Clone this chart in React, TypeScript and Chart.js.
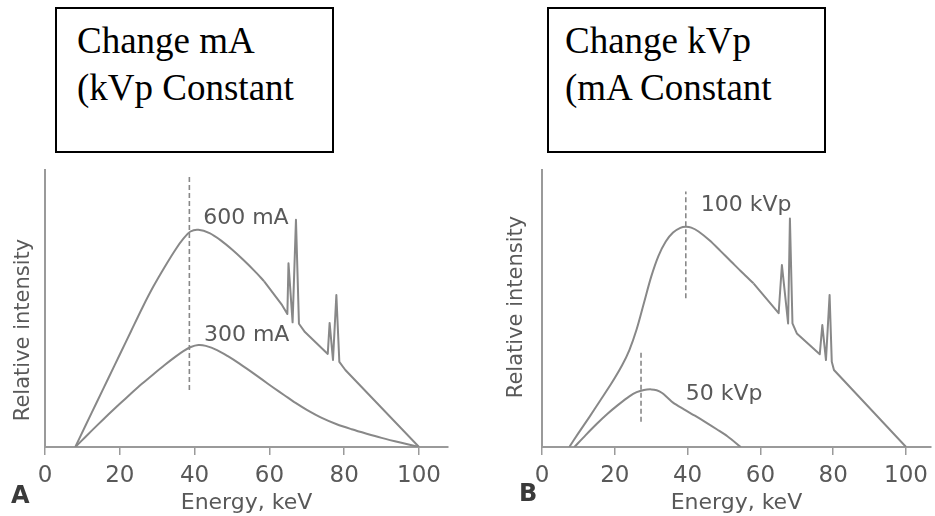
import React, { useEffect, useRef } from "react";
import { Chart, registerables } from "chart.js";

Chart.register(...registerables);

// ---------- data ----------
const xTickStep = 20;

// Panel A: change mA (kVp constant)
// 600 mA: smooth continuum part, then straight part with characteristic spikes
const a600SmoothX = [8.1, 11, 14, 17, 20, 23, 26, 29, 32, 35, 37, 38.9, 41, 44, 47, 50, 53, 56, 58.6];
const a600SmoothY = [0, 8.2, 16.6, 25.0, 33.4, 41.8, 50.2, 58.0, 65.0, 71.5, 75.2, 77.8, 78.4, 77.2, 74.6, 71.3, 67.6, 63.6, 59.8];
const a600LineX = [58.6, 63.4, 64.8, 65.1, 66.2, 67.1, 67.9, 69.5, 75.6, 76.1, 77.0, 77.9, 78.7, 80.3, 100];
const a600LineY = [59.8, 51.2, 48.0, 66.3, 45.0, 82.0, 44.5, 41.5, 33.6, 44.8, 31.4, 54.9, 30.7, 27.8, 0];
const a300X = [8.1, 11, 14, 17, 20, 23, 26, 29, 32, 35, 37, 39, 41, 43, 46, 49, 52, 55, 58, 61, 64, 67, 70, 74, 78, 82, 86, 90, 95, 100];
const a300Y = [0, 3.9, 7.9, 11.8, 15.6, 19.3, 22.9, 26.3, 29.6, 32.7, 34.6, 36.1, 36.8, 36.5, 35.0, 32.7, 30.1, 27.3, 24.4, 21.5, 18.7, 15.9, 13.4, 10.5, 8.2, 6.4, 4.8, 3.3, 1.6, 0];
const aPeakX = [38.6, 38.6];
const aPeakY = [20.6, 98.2];

// Panel B: change kVp (mA constant)
const b100SmoothX = [7.5, 10, 13, 16, 19, 22, 24, 26, 28, 30, 32, 34, 36, 38, 39.5, 41, 43, 46, 49, 52, 55, 58.1];
const b100SmoothY = [0, 5.0, 10.8, 16.8, 22.8, 29.5, 35.0, 42.5, 52.0, 61.5, 69.0, 74.2, 77.4, 79.1, 79.5, 79.2, 77.8, 74.6, 70.8, 66.9, 63.0, 59.1];
const b100LineX = [58.1, 65.0, 65.9, 67.6, 68.1, 68.8, 70.0, 76.3, 77.0, 78.0, 79.0, 79.6, 80.2, 100];
const b100LineY = [59.1, 48.3, 65.7, 44.6, 82.5, 44.6, 41.0, 33.5, 44.0, 31.4, 54.9, 30.8, 27.8, 0];
const b50X = [8.9, 12, 15, 18, 21, 24, 26, 28, 30, 31.5, 33, 34.5, 36, 39, 42, 45, 48, 51, 54.6];
const b50Y = [0, 4.3, 8.3, 12.0, 15.3, 18.3, 19.8, 20.6, 20.8, 20.5, 19.5, 17.8, 16.0, 13.6, 11.3, 8.9, 6.4, 3.8, 0];
const b100PeakX = [39.5, 39.5];
const b100PeakY = [53.7, 92.2];
const b50PeakX = [27.2, 27.2];
const b50PeakY = [9.1, 34.4];

const seriesLabelsA = [
  { text: "600 mA", x: 42.3, y: 82.7 },
  { text: "300 mA", x: 42.5, y: 40.4 },
];
const seriesLabelsB = [
  { text: "100 kVp", x: 43.6, y: 87.4 },
  { text: "50 kVp", x: 39.5, y: 19.1 },
];

// ---------- styles ----------
const TEXT = "#595959";
const LINE = "#888888";
const AXIS = "#9a9a9a";
const SANS = '"DejaVu Sans", "Liberation Sans", sans-serif';

type Series = { label: string; x: number[]; y: number[]; dashed?: boolean; tension?: number };
type PanelSpec = {
  series: Series[];
  labels: { text: string; x: number; y: number }[];
  xMax: number;
  yAxisWidth: number;
  padRight: number;
  yTitle: [number, number];
  letter: string;
  letterPos: [number, number];
};

const zip = (xs: number[], ys: number[]) => xs.map((x, i) => ({ x, y: ys[i] }));

const textPlugin = {
  id: "panelText",
  afterDraw(chart: any, _args: any, opts: any) {
    const ctx = chart.ctx as CanvasRenderingContext2D;
    const xs = chart.scales.x;
    const ys = chart.scales.y;
    ctx.save();
    ctx.fillStyle = TEXT;
    ctx.font = `22px ${SANS}`;
    ctx.textBaseline = "middle";
    ctx.textAlign = "left";
    for (const l of opts.labels) {
      ctx.fillText(l.text, xs.getPixelForValue(l.x), ys.getPixelForValue(l.y));
    }
    // panel letter
    ctx.fillStyle = "#3a3a3a";
    ctx.font = `bold 24px ${SANS}`;
    ctx.fillText(opts.letter, opts.letterPos[0], opts.letterPos[1]);
    // y axis title
    ctx.fillStyle = TEXT;
    ctx.font = `21px ${SANS}`;
    ctx.translate(opts.yTitle[0], opts.yTitle[1]);
    ctx.rotate(-Math.PI / 2);
    ctx.textAlign = "center";
    ctx.fillText("Relative intensity", 0, 0);
    ctx.restore();
  },
};

function Panel({ spec, left, width }: { spec: PanelSpec; left: number; width: number }) {
  const ref = useRef<HTMLCanvasElement | null>(null);
  useEffect(() => {
    if (!ref.current) return;
    const chart = new Chart(ref.current, {
      type: "line",
      data: {
        datasets: spec.series.map((s) => ({
          label: s.label,
          data: zip(s.x, s.y),
          borderColor: LINE,
          borderWidth: s.dashed ? 1.6 : 2,
          borderDash: s.dashed ? [5, 3] : [],
          pointRadius: 0,
          fill: false,
          tension: s.tension ?? 0,
          borderJoinStyle: "round",
        })),
      },
      options: {
        animation: false,
        responsive: false,
        layout: { padding: { top: 10, right: spec.padRight, left: 0, bottom: 0 } },
        plugins: {
          legend: { display: false },
          tooltip: { enabled: false },
          panelText: {
            labels: spec.labels,
            yTitle: spec.yTitle,
            letter: spec.letter,
            letterPos: spec.letterPos,
          },
        } as any,
        scales: {
          x: {
            type: "linear",
            min: 0,
            max: spec.xMax,
            afterFit: (s: any) => {
              s.height = 69;
            },
            ticks: {
              stepSize: xTickStep,
              includeBounds: false,
              autoSkip: false,
              maxRotation: 0,
              color: TEXT,
              font: { family: SANS, size: 23 },
              padding: 7,
            },
            grid: { drawOnChartArea: false, drawTicks: true, tickLength: 8, color: AXIS, lineWidth: 1.5 },
            border: { display: true, color: AXIS, width: 2 },
            title: {
              display: true,
              text: "Energy, keV",
              color: TEXT,
              font: { family: SANS, size: 22 },
              padding: { top: 0, bottom: 0 },
            },
          },
          y: {
            type: "linear",
            min: 0,
            max: 100,
            afterFit: (s: any) => {
              s.width = spec.yAxisWidth;
            },
            ticks: { display: false },
            grid: { display: false },
            border: { display: true, color: AXIS, width: 2 },
          },
        },
      },
      plugins: [textPlugin],
    } as any);
    return () => chart.destroy();
  }, [spec]);
  return (
    <canvas
      ref={ref}
      width={width}
      height={356}
      style={{ position: "absolute", left, top: 160, width, height: 356 }}
    />
  );
}

const specA: PanelSpec = {
  series: [
    { label: "600 mA", x: a600SmoothX, y: a600SmoothY, tension: 0.3 },
    { label: "600 mA lines", x: a600LineX, y: a600LineY, tension: 0 },
    { label: "300 mA", x: a300X, y: a300Y, tension: 0.3 },
    { label: "peak", x: aPeakX, y: aPeakY, dashed: true },
  ],
  labels: seriesLabelsA,
  xMax: 107.75,
  yAxisWidth: 45,
  padRight: 22,
  yTitle: [24, 170],
  letter: "A",
  letterPos: [11, 337],
};

const specB: PanelSpec = {
  series: [
    { label: "100 kVp", x: b100SmoothX, y: b100SmoothY, tension: 0.3 },
    { label: "100 kVp lines", x: b100LineX, y: b100LineY, tension: 0 },
    { label: "50 kVp", x: b50X, y: b50Y, tension: 0.3 },
    { label: "100 kVp peak", x: b100PeakX, y: b100PeakY, dashed: true },
    { label: "50 kVp peak", x: b50PeakX, y: b50PeakY, dashed: true },
  ],
  labels: seriesLabelsB,
  xMax: 106.8,
  yAxisWidth: 72,
  padRight: 0,
  yTitle: [47, 147],
  letter: "B",
  letterPos: [49, 335],
};

const boxStyle = (left: number): React.CSSProperties => ({
  position: "absolute",
  left,
  top: 7,
  width: 279,
  height: 146,
  boxSizing: "border-box",
  border: "2px solid #000",
  background: "#fff",
});

const boxText = (pad: number): React.CSSProperties => ({
  position: "absolute",
  left: pad,
  top: 8,
  fontFamily: '"Liberation Serif", "Times New Roman", serif',
  fontSize: 37,
  lineHeight: "47px",
  color: "#000",
  whiteSpace: "nowrap",
});

export default function App() {
  return (
    <div
      style={{
        position: "fixed",
        left: 0,
        top: 0,
        width: 935,
        height: 516,
        background: "#fff",
        overflow: "hidden",
      }}
    >
      <div style={boxStyle(55)}>
        <div style={boxText(20)}>
          <div>Change mA</div>
          <div>(kVp Constant</div>
        </div>
      </div>
      <div style={boxStyle(547)}>
        <div style={boxText(16)}>
          <div>Change kVp</div>
          <div>(mA Constant</div>
        </div>
      </div>
      <Panel spec={specA} left={0} width={470} />
      <Panel spec={specB} left={470} width={465} />
    </div>
  );
}
